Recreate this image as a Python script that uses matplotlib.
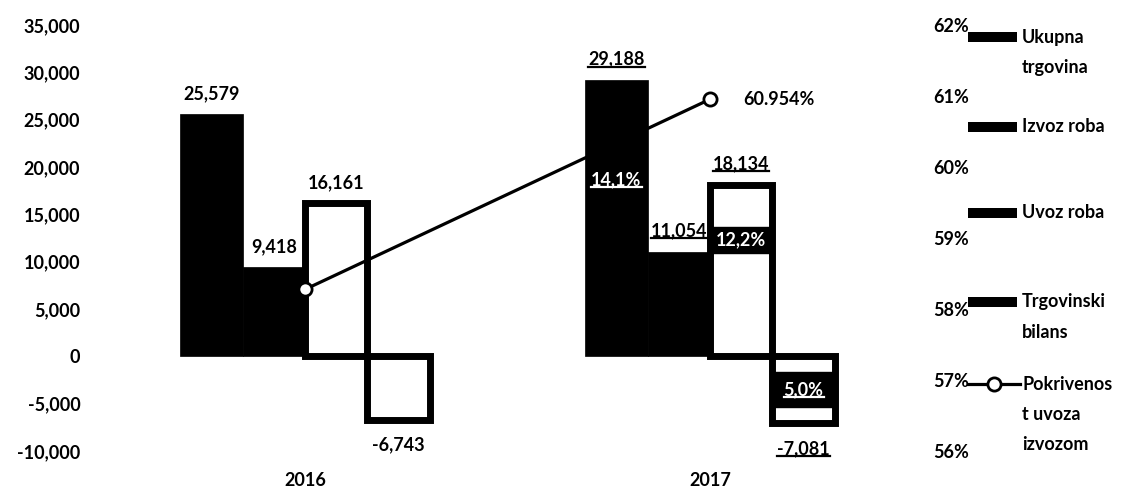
import matplotlib
matplotlib.use("Agg")
import matplotlib.pyplot as plt
from matplotlib.patches import Rectangle
from matplotlib.lines import Line2D
from matplotlib.transforms import IdentityTransform
from matplotlib.ticker import FuncFormatter
import numpy as np

# DATA (mil. EUR)
godine = ["2016", "2017"]
ukupna = [25579, 29188]
izvoz = [9418, 11054]
uvoz = [16161, 18134]
bilans = [-6743, -7081]
pokrivenost = [58.276, 60.954]
rast_2017 = ["14,1%", "12,2%", "5,0%"]

serije = ["Ukupna\ntrgovina", "Izvoz roba", "Uvoz roba", "Trgovinski\nbilans",
          "Pokrivenos\nt uvoza\nizvozom"]

# STYLE
plt.rcParams["font.family"] = ["Lato", "DejaVu Sans"]
plt.rcParams["font.weight"] = "bold"
plt.rcParams["font.size"] = 13
FS = 13

W, H = 1125, 488
fig = plt.figure(figsize=(W / 100, H / 100), dpi=100)
ax = fig.add_axes([102.5 / W, 1 - 451 / H, 810 / W, 426 / H])

x = np.arange(len(godine))
w = 0.154
off = np.array([-1.5, -0.5, 0.5, 1.5]) * w

b1 = ax.bar(x + off[0], ukupna, w, color="black", edgecolor="black", lw=0.5)
b2 = ax.bar(x + off[1], izvoz, w, color="black", edgecolor="black", lw=0.5)
b3 = ax.bar(x + off[2], uvoz, w, color="white", edgecolor="black", lw=5)
b4 = ax.bar(x + off[3], bilans, w, color="white", edgecolor="black", lw=5)

ax.set_xlim(-0.5, 1.5)
ax.set_ylim(-10000, 35000)
ax.set_yticks(np.arange(-10000, 35001, 5000))
ax.yaxis.set_major_formatter(FuncFormatter(lambda v, p: "{:,.0f}".format(v)))
ax.set_xticks(x)
ax.set_xticklabels(godine)
ax.tick_params(length=0, labelsize=FS)
ax.tick_params(axis="y", pad=16)
ax.tick_params(axis="x", pad=15)
for s in ax.spines.values():
    s.set_visible(False)

# SECONDARY AXIS - COVERAGE
ax2 = ax.twinx()
ax2.set_ylim(56, 62)
ax2.set_yticks(range(56, 63))
ax2.set_yticklabels(["%d%%" % v for v in range(56, 63)])
ax2.tick_params(length=0, labelsize=FS, pad=15)
for s in ax2.spines.values():
    s.set_visible(False)
ax2.plot(x, pokrivenost, color="black", lw=2.3, marker="o", ms=9.5,
         mfc="white", mec="black", mew=2, zorder=5)
ax2.annotate("%.3f%%" % pokrivenost[1], (x[1], pokrivenost[1]),
             xytext=(24, 0), textcoords="offset points", va="center",
             ha="left", fontsize=FS)

# VALUE LABELS
underline = []
for serija in [b1, b2, b3, b4]:
    for i, r in enumerate(serija):
        v = r.get_height()
        dy = 15 if v >= 0 else -18
        t = ax.annotate("{:,.0f}".format(v), (r.get_x() + r.get_width() / 2, v),
                        xytext=(0, dy), textcoords="offset points",
                        ha="center", va="center", fontsize=FS, zorder=6)
        if i == 1:
            underline.append((t, "black"))

# GROWTH LABELS 2017
t = ax.text(x[1] + off[0], 18700, rast_2017[0], ha="center", va="center",
            color="white", fontsize=FS, zorder=6)
underline.append((t, "white"))
ax.text(x[1] + off[2], 12300, rast_2017[1], ha="center", va="center",
        color="white", fontsize=FS, zorder=6,
        bbox=dict(boxstyle="square,pad=0.25", fc="black", ec="black"))
t = ax.text(x[1] + off[3], -3500, rast_2017[2], ha="center", va="center",
            color="white", fontsize=FS, zorder=6,
            bbox=dict(boxstyle="square,pad=0.5", fc="black", ec="black"))
underline.append((t, "white"))

# LEGEND
lx0, lx1 = 968, 1017
ly = [37, 127, 213, 302, 384]
for k, naziv in enumerate(serije):
    yc = 1 - ly[k] / H
    if k < 4:
        fig.add_artist(Rectangle((lx0 / W, yc - 5 / H), (lx1 - lx0) / W, 10 / H,
                                 transform=fig.transFigure, fc="black", ec="none"))
    else:
        fig.add_artist(Line2D([lx0 / W, 1020 / W], [yc, yc], transform=fig.transFigure,
                              color="black", lw=2.3))
        fig.add_artist(Line2D([(lx0 + 1020) / 2 / W], [yc], transform=fig.transFigure,
                              marker="o", ms=9.5, mfc="white", mec="black", mew=2))
    for j, red in enumerate(naziv.split("\n")):
        fig.text(1022 / W, yc - j * 30 / H, red, ha="left", va="center", fontsize=FS)

# UNDERLINES
fig.canvas.draw()
rend = fig.canvas.get_renderer()
for t, c in underline:
    bb = t.get_window_extent(rend)
    fig.add_artist(Line2D([bb.x0, bb.x1], [bb.y0 + 1, bb.y0 + 1],
                          transform=IdentityTransform(), color=c, lw=1.6))

plt.savefig("out.png", dpi=100)
